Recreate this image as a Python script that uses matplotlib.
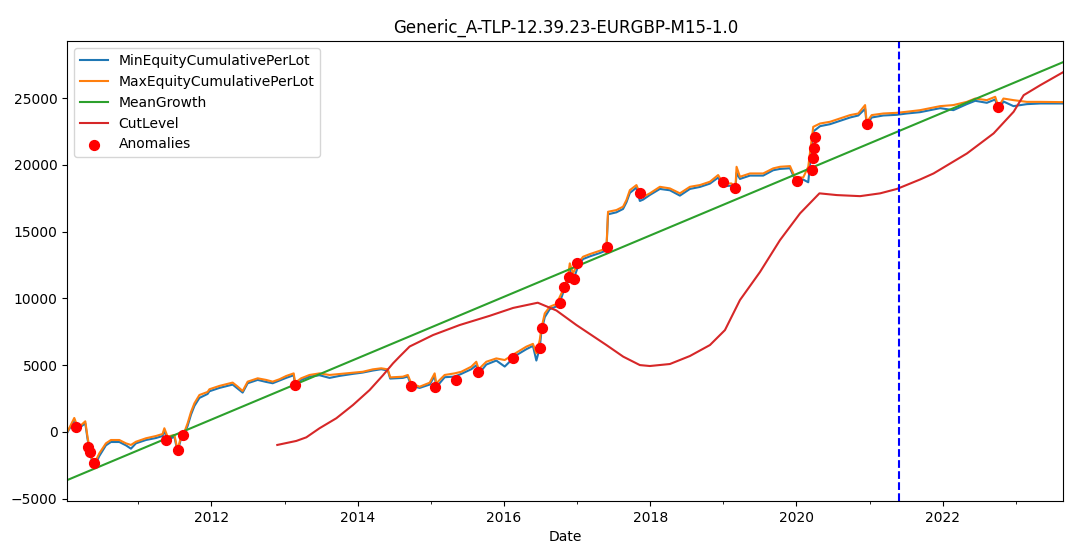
import matplotlib.dates as mdates
import matplotlib.pyplot as plt
import pandas as pd

title = "Generic_A-TLP-12.39.23-EURGBP-M15-1.0"

# equity curves (per lot)
eq_dates = [
    "2010-01-11", "2010-02-15", "2010-03-03", "2010-03-20", "2010-04-11", "2010-04-22",
    "2010-05-01", "2010-05-17", "2010-05-31", "2010-06-20", "2010-07-23", "2010-08-17",
    "2010-09-28", "2010-10-31", "2010-11-25", "2010-12-20", "2011-02-08", "2011-03-30",
    "2011-05-02", "2011-05-11", "2011-05-27", "2011-06-30", "2011-07-16", "2011-08-02",
    "2011-08-19", "2011-09-04", "2011-09-21", "2011-10-08", "2011-11-02", "2011-12-13",
    "2011-12-22", "2012-02-10", "2012-04-16", "2012-05-11", "2012-06-05", "2012-06-30",
    "2012-08-19", "2012-09-30", "2012-11-02", "2012-12-06", "2013-01-08", "2013-02-15",
    "2013-02-22", "2013-03-24", "2013-05-05", "2013-06-24", "2013-08-13", "2013-10-02",
    "2013-12-07", "2014-01-26", "2014-03-17", "2014-04-28", "2014-05-31", "2014-06-12",
    "2014-08-14", "2014-09-08", "2014-09-25", "2014-11-06", "2014-12-26", "2015-01-20",
    "2015-01-28", "2015-03-11", "2015-04-30", "2015-06-02", "2015-07-22", "2015-08-16",
    "2015-08-28", "2015-10-05", "2015-11-24", "2016-01-05", "2016-03-03", "2016-04-22",
    "2016-05-25", "2016-06-11", "2016-06-28", "2016-07-06", "2016-07-23", "2016-08-17",
    "2016-09-19", "2016-10-06", "2016-10-22", "2016-11-16", "2016-11-25", "2016-12-11",
    "2017-01-05", "2017-01-30", "2017-03-05", "2017-04-24", "2017-05-27", "2017-06-04",
    "2017-07-16", "2017-08-18", "2017-09-04", "2017-09-21", "2017-10-24", "2017-11-10",
    "2017-11-26", "2017-12-30", "2018-02-18", "2018-04-09", "2018-05-29", "2018-07-18",
    "2018-09-06", "2018-10-26", "2018-12-06", "2018-12-31", "2019-02-11", "2019-03-02",
    "2019-03-08", "2019-03-25", "2019-05-14", "2019-07-19", "2019-09-07", "2019-10-11",
    "2019-11-30", "2019-12-25", "2020-02-04", "2020-02-29", "2020-03-25", "2020-04-28",
    "2020-06-17", "2020-08-06", "2020-09-25", "2020-11-05", "2020-12-09", "2020-12-17",
    "2021-01-11", "2021-03-10", "2021-05-16", "2021-07-05", "2021-09-10", "2021-12-19",
    "2022-02-23", "2022-05-01", "2022-06-12", "2022-08-09", "2022-09-20", "2022-10-06",
    "2022-10-31", "2022-12-20", "2023-02-25", "2023-05-03", "2023-08-26",
]
max_equity = [
    0, 1050, 400, 500, 800, -350,
    -1100, -2100, -2200, -1600, -850, -600,
    -600, -850, -970, -730, -470, -300,
    -150, 280, -350, -220, -1350, -350,
    0, 650, 1500, 2150, 2770, 3000,
    3200, 3450, 3700, 3400, 3070, 3770,
    4020, 3900, 3770, 3950, 4190, 4390,
    3690, 4020, 4270, 4390, 4270, 4340,
    4440, 4510, 4690, 4770, 4690, 4090,
    4140, 4270, 3640, 3390, 3690, 4390,
    3640, 4270, 4390, 4510, 4890, 5260,
    4700, 5260, 5510, 5390, 5940, 6390,
    6600, 5890, 6890, 7760, 8880, 9380,
    9580, 10130, 10630, 11620, 12630, 11880,
    12630, 13120, 13320, 13570, 13750, 16490,
    16620, 16870, 17370, 18110, 18490, 17870,
    17610, 17870, 18360, 18240, 17870, 18360,
    18490, 18740, 19240, 18610, 18610, 18240,
    19860, 19110, 19360, 19360, 19740, 19860,
    19910, 19060, 19060, 19860, 22850, 23100,
    23230, 23480, 23730, 23850, 24480, 23200,
    23730, 23850, 23900, 23980, 24100, 24400,
    24480, 24720, 24970, 24850, 25100, 24350,
    24970, 24850, 24720, 24720, 24700,
]
min_equity = [
    -50, 900, 300, 400, 650, -500,
    -1300, -2300, -2450, -1800, -1000, -750,
    -750, -1000, -1250, -850, -600, -450,
    -300, 100, -600, -350, -1500, -500,
    -150, 450, 1300, 1950, 2550, 2850,
    3050, 3300, 3550, 3250, 2950, 3650,
    3900, 3750, 3650, 3850, 4050, 4250,
    3500, 3900, 4150, 4250, 4050, 4200,
    4350, 4450, 4600, 4700, 4600, 4000,
    4050, 4150, 3450, 3300, 3550, 4200,
    3350, 4100, 4150, 4350, 4700, 5000,
    4350, 5050, 5350, 4900, 5750, 6200,
    6450, 5350, 6300, 7500, 8600, 9200,
    9400, 9700, 10400, 11300, 12200, 11300,
    12400, 12950, 13150, 13400, 13600, 16300,
    16450, 16700, 17200, 17900, 18300, 17300,
    17400, 17750, 18200, 18100, 17700, 18200,
    18350, 18600, 19050, 18400, 18450, 18100,
    19400, 18950, 19200, 19200, 19600, 19700,
    19750, 18900, 18900, 18700, 22500, 22900,
    23050, 23300, 23550, 23700, 24200, 23000,
    23550, 23700, 23750, 23850, 23950, 24250,
    24100, 24550, 24800, 24650, 24900, 24050,
    24750, 24400, 24550, 24600, 24600,
]

# straight growth line between first and last date
growth_dates = ["2010-01-11", "2023-08-26"]
mean_growth = [-3600, 27700]

# cut level curve
cut_dates = [
    "2012-11-25", "2013-02-28", "2013-04-19", "2013-06-24", "2013-09-16", "2013-12-08",
    "2014-03-01", "2014-05-07", "2014-06-26", "2014-07-29", "2014-09-17", "2015-01-12",
    "2015-05-25", "2015-10-22", "2016-02-16", "2016-06-18", "2016-09-19", "2016-12-28",
    "2017-05-27", "2017-08-19", "2017-11-10", "2017-12-30", "2018-04-09", "2018-07-18",
    "2018-10-26", "2019-01-09", "2019-03-25", "2019-07-03", "2019-10-11", "2020-01-19",
    "2020-04-25", "2020-07-21", "2020-11-14", "2021-02-22", "2021-05-17", "2021-09-10",
    "2021-11-16", "2022-05-02", "2022-09-12", "2022-12-21", "2023-02-09", "2023-05-03",
    "2023-08-26",
]
cut_level = [
    -970, -670, -400, 280, 1030, 2020,
    3140, 4250, 5140, 5650, 6400, 7260,
    8010, 8700, 9290, 9680, 9100, 8010,
    6510, 5640, 5010, 4940, 5090, 5690,
    6510, 7630, 9880, 11980, 14370, 16370,
    17870, 17740, 17660, 17870, 18200, 18910,
    19360, 20860, 22360, 23980, 25220, 25970,
    26950,
]

# anomaly markers
anom_dates = [
    "2010-02-23", "2010-04-27", "2010-05-04", "2010-05-26", "2011-05-19", "2011-07-16",
    "2011-08-14", "2013-02-22", "2014-09-26", "2015-01-20", "2015-05-05", "2015-08-24",
    "2016-02-16", "2016-06-28", "2016-07-11", "2016-10-06", "2016-10-29", "2016-11-23",
    "2016-12-15", "2017-01-01", "2017-05-31", "2017-11-10", "2018-12-28", "2019-03-01",
    "2020-01-06", "2020-03-20", "2020-03-23", "2020-03-27", "2020-04-01", "2020-12-17",
    "2022-10-06",
]
anom_values = [
    400, -1150, -1470, -2300, -600, -1350,
    -220, 3520, 3440, 3390, 3890, 4510,
    5510, 6260, 7760, 9680, 10880, 11620,
    11430, 12630, 13870, 17910, 18690, 18240,
    18810, 19610, 20490, 21240, 22100, 23100,
    24350,
]

split_date = "2021-05-27"

# %%
eq_idx = pd.to_datetime(eq_dates)

fig, ax = plt.subplots(figsize=(10.85, 5.49), dpi=100)
ax.plot(eq_idx, min_equity, label="MinEquityCumulativePerLot")
ax.plot(eq_idx, max_equity, label="MaxEquityCumulativePerLot")
ax.plot(pd.to_datetime(growth_dates), mean_growth, label="MeanGrowth")
ax.plot(pd.to_datetime(cut_dates), cut_level, label="CutLevel")
ax.scatter(pd.to_datetime(anom_dates), anom_values, color="red", s=50,
           label="Anomalies", zorder=3)
ax.axvline(pd.Timestamp(split_date), color="blue", linestyle="--", linewidth=1.5)

ax.set_xlim(eq_idx[0], eq_idx[-1])
ax.xaxis.set_major_locator(mdates.YearLocator(2))
ax.xaxis.set_minor_locator(mdates.YearLocator(1))
ax.xaxis.set_major_formatter(mdates.DateFormatter("%Y"))
ax.set_xlabel("Date")
ax.set_title(title)
ax.legend(loc="upper left")

plt.subplots_adjust(left=0.062, right=0.98, top=0.925, bottom=0.0875)
plt.savefig("out.png", dpi=100)
